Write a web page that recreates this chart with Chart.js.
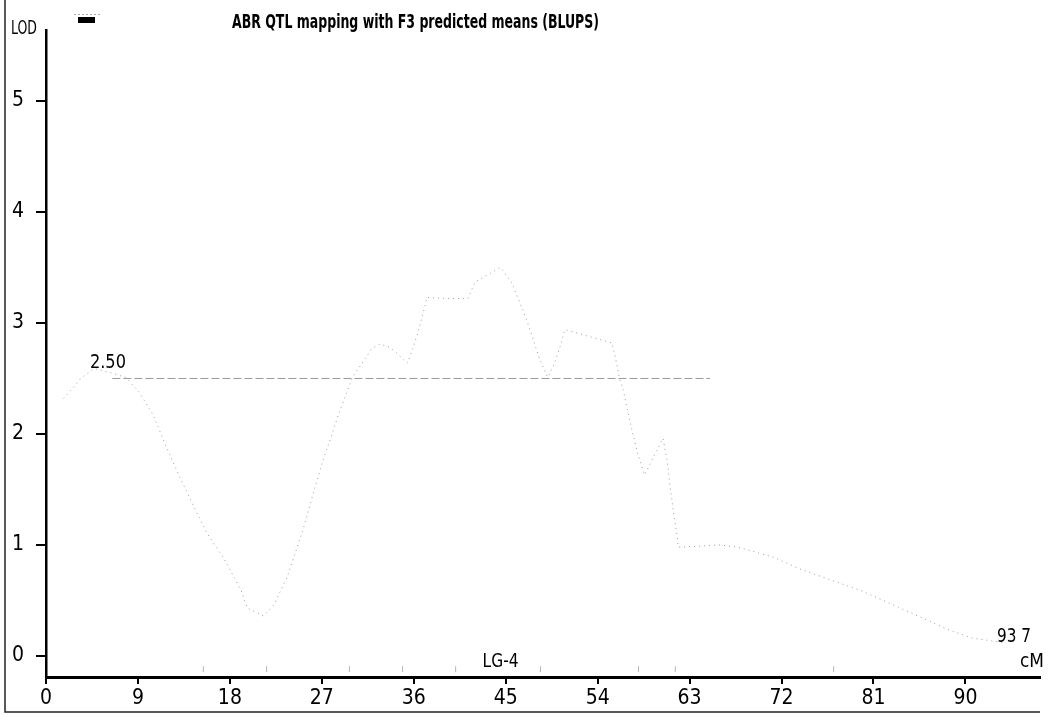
<!DOCTYPE html>
<html>
<head>
<meta charset="utf-8">
<script src="https://cdn.jsdelivr.net/npm/chart.js@4/dist/chart.umd.min.js"></script>
<style>
  html, body { margin: 0; padding: 0; background: #fff; }
  #wrap { width: 1049px; height: 720px; }
</style>
</head>
<body>
<div id="wrap"><canvas id="myChart" width="1049" height="720"></canvas></div>
<script>
// LOD profile along LG-4 (position in cM, LOD score)
var positions = [1.7, 2.6, 3.4, 4.7, 6.0, 7.8, 9.1, 10.5, 11.7, 13.1, 14.5, 15.8, 17.4, 18.4, 19.1, 19.7,
    21.3, 22.3, 23.6, 25.1, 26.4, 27.2, 27.9, 28.6, 29.1, 30.0, 31.9, 32.7, 33.7, 35.4, 35.9, 36.4,
    37.0, 37.3, 39.3, 41.3, 42.0, 44.5, 45.6, 46.8, 47.3, 48.3, 49.1, 49.7, 50.3, 50.8, 55.4, 55.9,
    56.1, 56.5, 56.9, 57.4, 57.9, 58.6, 59.4, 60.4, 60.8, 61.1, 61.5, 61.8, 61.9, 64.3, 66.0, 67.7,
    71.2, 73.6, 80.0, 88.5, 90.7, 93.7];
var lodValues = [2.32, 2.41, 2.50, 2.59, 2.56, 2.51, 2.38, 2.17, 1.90, 1.61, 1.34, 1.10, 0.88, 0.71, 0.59, 0.43,
    0.36, 0.46, 0.71, 1.12, 1.54, 1.79, 1.97, 2.17, 2.29, 2.51, 2.77, 2.81, 2.78, 2.64, 2.77, 2.91,
    3.12, 3.23, 3.22, 3.22, 3.37, 3.50, 3.36, 3.09, 2.96, 2.68, 2.51, 2.62, 2.78, 2.94, 2.82, 2.62,
    2.51, 2.40, 2.22, 2.02, 1.83, 1.63, 1.78, 1.96, 1.76, 1.52, 1.25, 1.07, 0.98, 0.99, 1.00, 0.98,
    0.89, 0.79, 0.58, 0.23, 0.16, 0.12];

// significance threshold
var threshold = 2.50;
var thresholdFrom = 6.5;
var thresholdTo = 65;

// marker positions on the linkage group
var markerPositions = [15.4, 21.6, 29.7, 34.9, 40.1, 48.4, 58.0, 61.6, 77.1];

var xTicks = [0, 9, 18, 27, 36, 45, 54, 63, 72, 81, 90];
var yTicks = [0, 1, 2, 3, 4, 5];
var groupLength = 93.7;

var narrow = '"DejaVu Sans Condensed", "Liberation Sans Narrow", sans-serif';

var profile = positions.map(function (p, i) { return { x: p, y: lodValues[i] }; });
var thresholdLine = [{ x: thresholdFrom, y: threshold }, { x: thresholdTo, y: threshold }];
var markers = markerPositions.map(function (p) { return { x: p, y: -0.12 }; });

// extra text and frame drawn on top of the chart
var decorations = {
    id: "decorations",
    afterDraw: function (chart) {
        var ctx = chart.ctx;
        var xs = chart.scales.x, ys = chart.scales.y;
        ctx.save();
        ctx.fillStyle = "#000";
        ctx.textBaseline = "middle";

        ctx.font = "bold 19px " + narrow;
        ctx.textAlign = "left";
        ctx.fillText("ABR QTL mapping with F3 predicted means (BLUPS)", 232, 23, 367);

        ctx.font = "20px " + narrow;
        ctx.fillText("LOD", 11, 29, 26);

        ctx.font = "19px " + narrow;
        ctx.fillText(threshold.toFixed(2), xs.getPixelForValue(4.3), ys.getPixelForValue(threshold) - 15, 36);

        ctx.textAlign = "center";
        ctx.fillText("LG-4", xs.getPixelForValue(44.5), ys.getPixelForValue(0) + 6, 36);
        ctx.textAlign = "right";
        ctx.fillText("cM", 1044, ys.getPixelForValue(0) + 6, 24);
        ctx.fillText(groupLength.toFixed(1).replace(".", " "), 1031, ys.getPixelForValue(0.17), 34);

        // legend swatch
        ctx.fillRect(78, 17, 17, 6);
        ctx.strokeStyle = "#aaa";
        ctx.lineWidth = 1;
        ctx.setLineDash([2, 2]);
        ctx.beginPath();
        ctx.moveTo(74, 14.5);
        ctx.lineTo(102, 14.5);
        ctx.stroke();
        ctx.setLineDash([]);

        // outer frame (left and bottom)
        ctx.strokeStyle = "#222";
        ctx.lineWidth = 1.5;
        ctx.beginPath();
        ctx.moveTo(5, 0);
        ctx.lineTo(5, 712);
        ctx.lineTo(1040, 712);
        ctx.stroke();
        ctx.restore();
    }
};

window.onload = function () {
    var ctx = document.getElementById("myChart").getContext("2d");
    var myChart = new Chart(ctx, {
        type: "scatter",
        data: {
            datasets: [{
                label: "LOD",
                data: profile,
                showLine: true,
                borderColor: "#9c9c9c",
                borderWidth: 1,
                borderDash: [1, 4],
                pointRadius: 0,
                tension: 0
            },
            {
                label: "Threshold",
                data: thresholdLine,
                showLine: true,
                borderColor: "#9a9a9a",
                borderWidth: 1,
                borderDash: [8, 3],
                pointRadius: 0
            },
            {
                label: "Markers",
                data: markers,
                pointStyle: "line",
                rotation: 90,
                pointRadius: 3,
                borderColor: "#b5b5b5",
                borderWidth: 1
            }
        ]},
        options: {
            responsive: false,
            animation: false,
            layout: { padding: { top: 30, left: 0, right: 9, bottom: 0 } },
            plugins: {
                legend: { display: false },
                tooltip: { enabled: false }
            },
            scales: {
                x: {
                    type: "linear",
                    min: 0,
                    max: 97.3,
                    afterBuildTicks: function (scale) {
                        scale.ticks = xTicks.map(function (v) { return { value: v }; });
                    },
                    afterFit: function (scale) { scale.height = 43; },
                    border: { display: true, color: "#000", width: 3 },
                    grid: { drawOnChartArea: false, color: "#000", lineWidth: 2, tickLength: 7 },
                    ticks: {
                        color: "#000",
                        padding: 2,
                        maxRotation: 0,
                        font: { family: narrow, size: 21 }
                    }
                },
                y: {
                    min: -0.19,
                    max: 5.64,
                    afterBuildTicks: function (scale) {
                        scale.ticks = yTicks.map(function (v) { return { value: v }; });
                    },
                    afterFit: function (scale) { scale.width = 46; },
                    border: { display: true, color: "#000", width: 2.5 },
                    grid: { drawOnChartArea: false, color: "#000", lineWidth: 2, tickLength: 10 },
                    ticks: {
                        color: "#000",
                        padding: 12,
                        font: { family: narrow, size: 21 }
                    }
                }
            }
        },
        plugins: [decorations]
    });
};
</script>
</body>
</html>
